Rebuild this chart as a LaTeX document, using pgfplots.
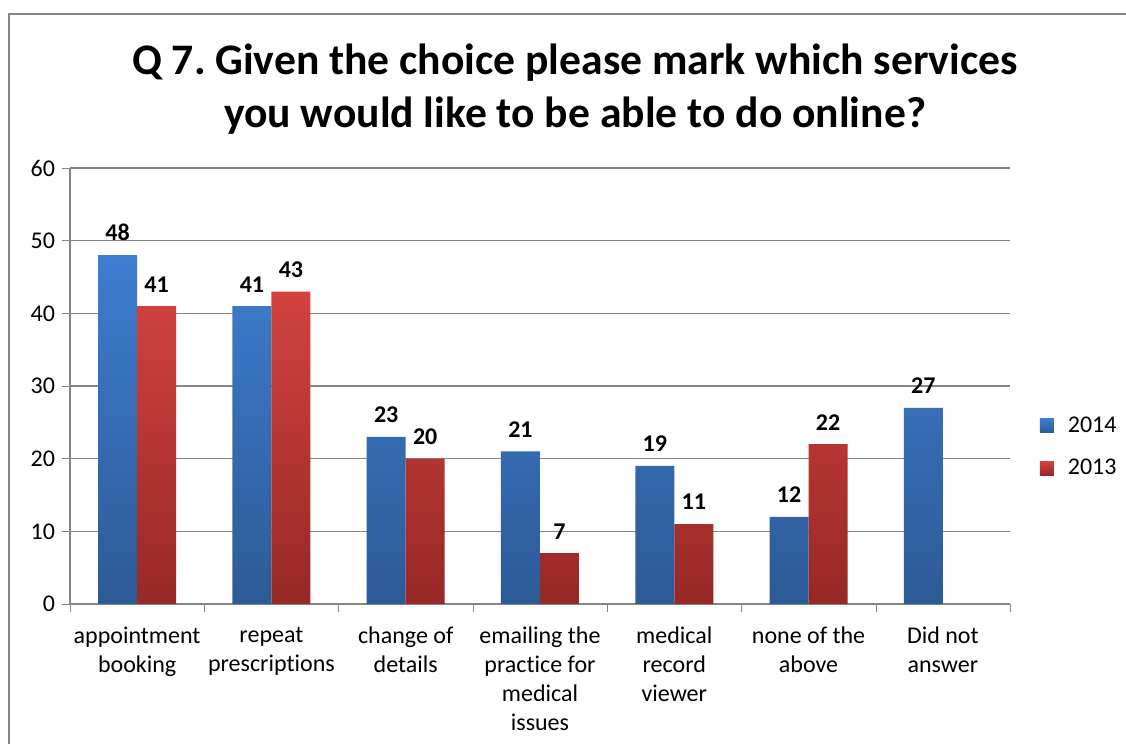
\documentclass[border=0pt]{standalone}
\usepackage{pgfplots}
\pgfplotsset{compat=1.18}
\usepackage{fontspec}
\setmainfont[Ligatures={NoCommon}]{Carlito}
\frenchspacing
\definecolor{bluetop}{RGB}{62,125,208}
\definecolor{bluebot}{RGB}{44,90,150}
\definecolor{redtop}{RGB}{210,66,62}
\definecolor{redbot}{RGB}{150,40,38}
\definecolor{axgray}{RGB}{134,134,134}
\begin{document}
\begin{tikzpicture}
\useasboundingbox (0,0) rectangle (563pt,372pt);
\draw[axgray, line width=1pt] (4.5pt,0) -- (4.5pt,365pt) -- (563pt,365pt);
\node[anchor=base, font=\fontsize{21.8}{26}\selectfont\bfseries] at (287.5pt,334.5pt) {Q 7. Given the choice please mark which services};
\node[anchor=base, font=\fontsize{21.8}{26}\selectfont\bfseries] at (287.5pt,308pt) {you would like to be able to do online?};
\begin{axis}[
  at={(35pt,70pt)}, anchor=south west,
  scale only axis, width=470pt, height=218pt,
  ybar=0pt, bar width=19.5pt,
  xmin=-0.5, xmax=6.5, ymin=0, ymax=60,
  ytick={0,10,...,60},
  xtick={0,...,6},
  xticklabels={appointment\\booking, repeat\\prescriptions, change of\\details, emailing the\\practice for\\medical\\issues, medical\\record\\viewer, none of the\\above, Did not\\answer},
  xticklabel style={align=center, font=\fontsize{12}{14.5}\selectfont, anchor=north, yshift=-4pt},
  yticklabel style={font=\fontsize{12}{14}\selectfont},
  /pgf/number format/assume math mode=true,
  minor xtick={-0.5,0.5,...,6.5},
  major x tick style={draw=none},
  tick align=outside, major tick length=4pt, minor tick length=4pt,
  tick style={axgray},
  axis x line*=bottom, axis y line*=left,
  axis line style={axgray, line width=0.8pt},
  ymajorgrids, grid style={axgray, line width=0.6pt},
  nodes near coords,
  every node near coord/.append style={font=\fontsize{12}{14}\selectfont\bfseries, color=black, yshift=3.5pt},
  legend style={at={(1.025,0.36)}, anchor=west, draw=none, font=\fontsize{12}{14}\selectfont, row sep=8pt, /tikz/every even column/.append style={column sep=2pt}, /tikz/every odd column/.append style={column sep=5pt}},
  legend cell align=left,
  clip=false,
]
\addplot[draw=none, top color=bluetop, bottom color=bluebot,
  legend image code/.code={\fill[top color=bluetop, bottom color=bluebot] (0pt,-3.5pt) rectangle (7pt,3.5pt);}]
  coordinates {(0,48) (1,41) (2,23) (3,21) (4,19) (5,12) (6,27)};
\addplot[draw=none, top color=redtop, bottom color=redbot,
  legend image code/.code={\fill[top color=redtop, bottom color=redbot] (0pt,-3.5pt) rectangle (7pt,3.5pt);}]
  coordinates {(0,41) (1,43) (2,20) (3,7) (4,11) (5,22)};
\legend{2014,2013}
\end{axis}
\end{tikzpicture}
\end{document}
